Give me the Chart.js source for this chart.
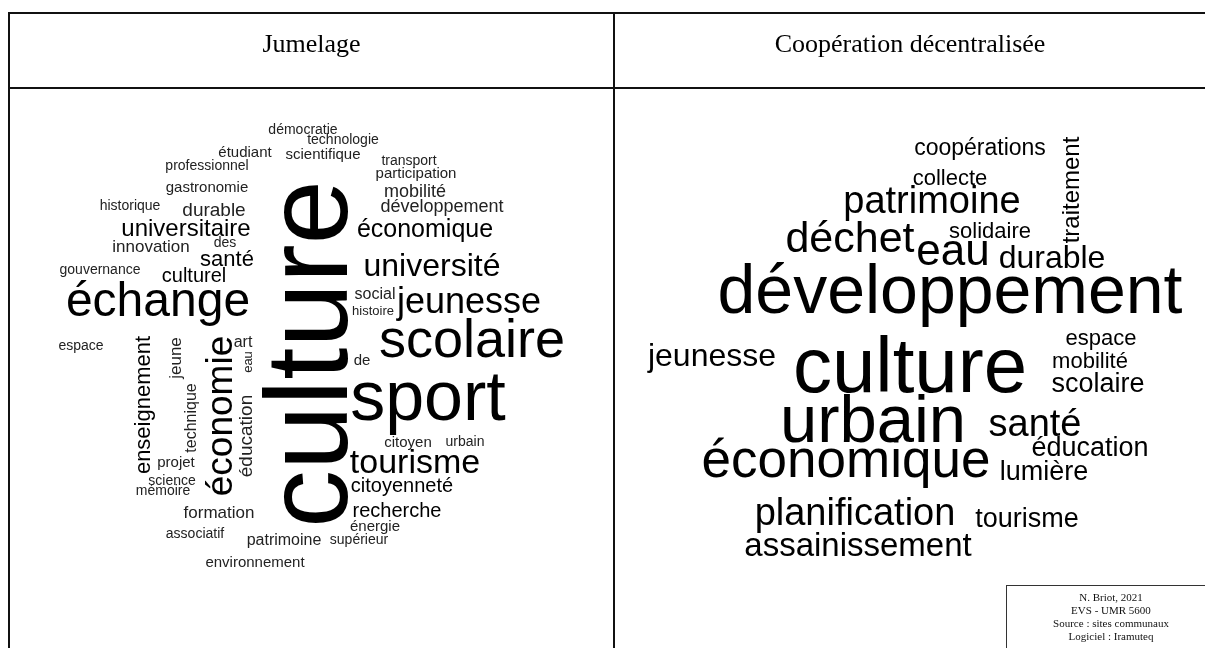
<!DOCTYPE html>
<html lang="fr">
<head>
<meta charset="UTF-8">
<title>Jumelage / Coopération décentralisée</title>
<script src="https://cdn.jsdelivr.net/npm/chart.js"></script>
<style>
  body { margin: 0; background: #fff; width: 1205px; height: 648px; overflow: hidden; position: relative; }
  canvas { position: absolute; left: 0; top: 0; }
  .ln { position: absolute; background: #111; }
  .head { position: absolute; top: 29px; font: 26px "Liberation Serif", serif; color: #000; text-align: center; }
  .credit { position: absolute; left: 1006px; top: 585px; width: 210px; height: 80px; border: 1px solid #333;
            font: 11px "Liberation Serif", serif; color: #111; text-align: center; line-height: 13px; padding-top: 5px; box-sizing: border-box; }
</style>
</head>
<body>
<canvas id="cloud" width="1205" height="648"></canvas>
<div class="ln" style="left:8px;top:12px;width:1200px;height:2px"></div>
<div class="ln" style="left:8px;top:87px;width:1200px;height:2px"></div>
<div class="ln" style="left:8px;top:12px;width:2px;height:640px"></div>
<div class="ln" style="left:613px;top:12px;width:2px;height:640px"></div>
<div class="head" style="left:10px;width:603px">Jumelage</div>
<div class="head" style="left:615px;width:590px">Coopération décentralisée</div>
<div class="credit">N. Briot, 2021<br>EVS - UMR 5600<br>Source : sites communaux<br>Logiciel : Iramuteq</div>
<script>
// Jumelage
const leftWords = ["culture","sport","scolaire","échange","jeunesse","économie","université","tourisme",
  "économique","universitaire","santé","enseignement","culturel","citoyenneté","recherche","durable",
  "éducation","mobilité","développement","innovation","formation","patrimoine","social","art","de",
  "jeune","technique","démocratie","technologie","étudiant","scientifique","transport","professionnel",
  "participation","gastronomie","historique","des","gouvernance","histoire","espace","citoyen","urbain",
  "énergie","supérieur","associatif","environnement","projet","science","mémoire","eau"];
const leftX = [347,428,472,158,469,232,432,415,
  425,186,227,150,194,402,397,214,
  252,415,442,151,219,284,375,243,362,
  181,196,303,343,245,323,409,207,
  416,207,130,225,100,373,81,408,465,
  375,359,195,255,176,172,163,252];
const leftY = [354,420,357,316,313,416,276,473,
  237,236,266,405,282,492,517,216,
  436,197,212,252,518,545,299,347,365,
  358,418,134,144,157,159,165,170,
  178,192,210,247,274,315,350,447,446,
  531,544,538,567,467,485,495,362];
const leftWeight = [116,70,54,48,36,37,32,34,
  25,24,22,22,20,20,20,19,
  19,18,18,17,17,16,16,16,15,
  17,16,14,14,15,15,14,14,
  15,15,14,14,14,13,14,15,14,
  15,14,14,15,15,14,14,13];
const leftRot = [90,0,0,0,0,90,0,0,
  0,0,0,90,0,0,0,0,
  90,0,0,0,0,0,0,0,0,
  90,90,0,0,0,0,0,0,
  0,0,0,0,0,0,0,0,0,
  0,0,0,0,0,0,0,90];

// Coopération décentralisée
const rightWords = ["culture","développement","urbain","économique","déchet","eau","patrimoine","santé",
  "planification","assainissement","jeunesse","durable","scolaire","éducation","lumière","tourisme",
  "traitement","coopérations","collecte","solidaire","espace","mobilité"];
const rightX = [910,950,873,846,850,953,932,1035,
  855,858,712,1052,1098,1090,1044,1027,
  1079,980,950,990,1101,1090];
const rightY = [392,313,442,477,252,265,213,436,
  525,556,366,268,392,456,480,527,
  190,155,185,238,345,368];
const rightWeight = [78,68,67,53,43,44,38,38,
  38,33,32,32,27,27,27,27,
  24,23,22,22,22,22];
const rightRot = [0,0,0,0,0,0,0,0,
  0,0,0,0,0,0,0,0,
  90,0,0,0,0,0];

const toPoints = (xs, ys) => xs.map((x, i) => ({ x: x, y: ys[i] }));

const wordPlugin = {
  id: 'words',
  afterDatasetsDraw(chart) {
    const ctx = chart.ctx;
    const sx = chart.scales.x, sy = chart.scales.y;
    chart.data.datasets.forEach(ds => {
      ds.data.forEach((p, i) => {
        const px = sx.getPixelForValue(p.x);
        const py = sy.getPixelForValue(p.y);
        const size = ds.weights[i];
        ctx.save();
        ctx.translate(px, py);
        if (ds.rotations[i]) ctx.rotate(-Math.PI / 2);
        ctx.font = size + 'px "Liberation Sans", Arial, sans-serif';
        ctx.fillStyle = size >= 20 ? '#000' : '#222';
        ctx.textAlign = 'center';
        ctx.textBaseline = 'alphabetic';
        ctx.fillText(ds.words[i], 0, 0);
        ctx.restore();
      });
    });
  }
};

new Chart(document.getElementById('cloud'), {
  type: 'scatter',
  data: {
    datasets: [
      { label: 'Jumelage', data: toPoints(leftX, leftY), words: leftWords, weights: leftWeight, rotations: leftRot, pointRadius: 0 },
      { label: 'Coopération décentralisée', data: toPoints(rightX, rightY), words: rightWords, weights: rightWeight, rotations: rightRot, pointRadius: 0 }
    ]
  },
  options: {
    responsive: false,
    animation: false,
    layout: { padding: 0 },
    plugins: { legend: { display: false }, tooltip: { enabled: false } },
    scales: {
      x: { type: 'linear', min: 0, max: 1205, display: false },
      y: { type: 'linear', min: 0, max: 648, reverse: true, display: false }
    }
  },
  plugins: [wordPlugin]
});
</script>
</body>
</html>
